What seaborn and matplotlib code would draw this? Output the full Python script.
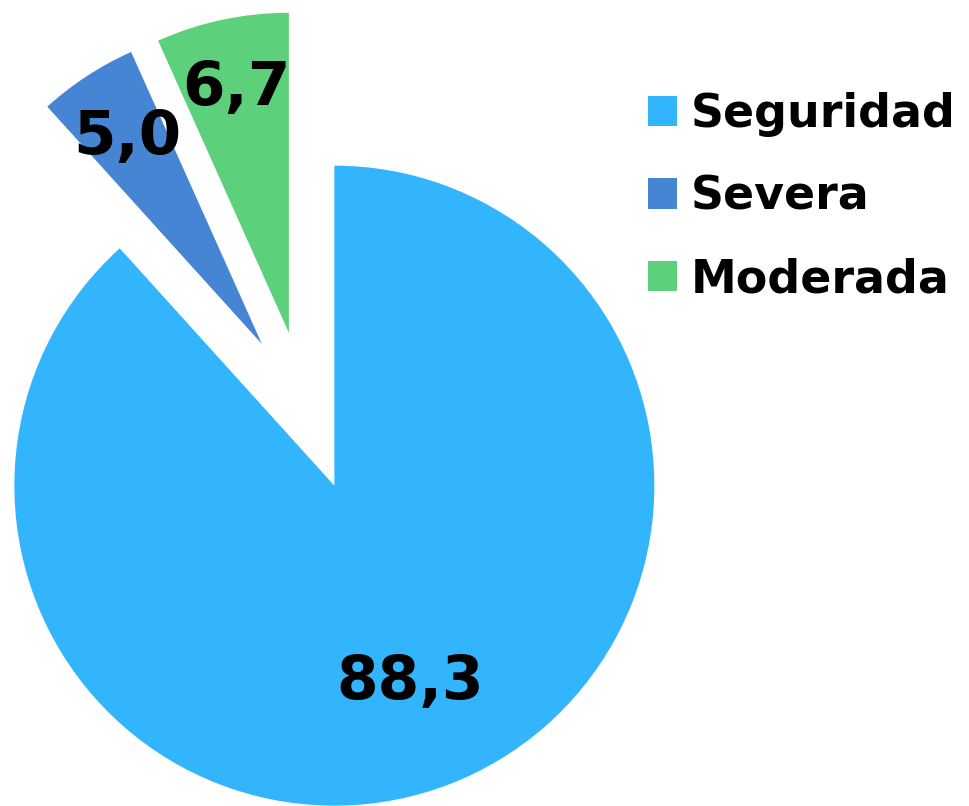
import matplotlib
matplotlib.use('Agg')
import matplotlib.pyplot as plt
import seaborn as sns
import numpy as np

# DATA
categories = ['Seguridad', 'Severa', 'Moderada']
values = [88.3, 5.0, 6.7]
colors = ['#33B5FE', '#4685D4', '#5CD07A']

sns.set_theme(style='white')
plt.rcParams['font.family'] = ['DejaVu Sans']

fig = plt.figure(figsize=(9.69, 8.06), dpi=100)
ax = fig.add_axes([0, 0, 1, 1])

R = 320
# explode is in data units, so scale by radius
wedges, _ = ax.pie(values, colors=colors, startangle=90, counterclock=False,
                   explode=[0.25 * R] * 3, radius=R, center=(305.6, 395),
                   wedgeprops=dict(linewidth=0))
ax.set_xlim(0, 969)
ax.set_ylim(0, 806)
ax.set_aspect('equal')
ax.axis('off')

# value labels, distance from each wedge tip as fraction of radius
label_dist = [0.66, 0.77, 0.78]
label_size = [43, 44, 44]
for w, v, d, s in zip(wedges, values, label_dist, label_size):
    ang = np.deg2rad((w.theta1 + w.theta2) / 2)
    cx, cy = w.center
    ax.text(cx + d * w.r * np.cos(ang), cy + d * w.r * np.sin(ang),
            f"{v:.1f}".replace('.', ','), ha='center', va='center',
            fontsize=s, fontweight='bold', color='black')

leg = ax.legend(wedges, categories, loc='upper left', bbox_to_anchor=(648 / 969, 1 - 92 / 806),
                frameon=False, handlelength=0.64, handleheight=0.64,
                handletextpad=0.3, labelspacing=0.82, borderpad=0, borderaxespad=0,
                prop=dict(family='DejaVu Sans', weight='bold', size=33))
for t in leg.get_texts():
    t.set_color('black')

fig.savefig('out.png', dpi=100)
